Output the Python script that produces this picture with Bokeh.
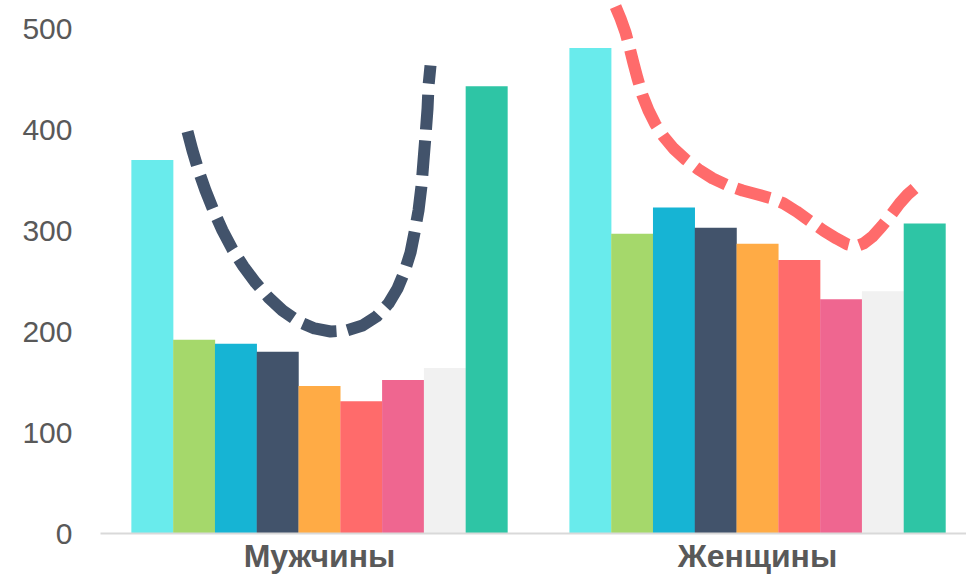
from bokeh.plotting import figure
from bokeh.models import Range1d, FixedTicker, ColumnDataSource
from bokeh.embed import file_html
from bokeh.resources import INLINE

groups = ["Мужчины", "Женщины"]
series_colors = ["#69EBEC", "#A5D86B", "#16B4D4", "#42536B", "#FFAB45",
                 "#FF6B6B", "#EF6690", "#F1F1F1", "#2EC5A5"]
men_values = [370, 192, 188, 180, 146, 131, 152, 164, 443]
women_values = [481, 297, 323, 303, 287, 271, 232, 240, 307]
y_ticks = [0, 100, 200, 300, 400, 500]

# decorative dashed curves (x in group units: 0 = Мужчины, 1 = Женщины)
men_curve_x = [-0.3014, -0.2900, -0.2763, -0.2603, -0.2420, -0.2215, -0.1986,
               -0.1735, -0.1461, -0.1164, -0.0845, -0.0479, -0.0114, 0.0251,
               0.0616, 0.0982, 0.1301, 0.1575, 0.1781, 0.1941, 0.2078, 0.2169,
               0.2260, 0.2329, 0.2374, 0.2420, 0.2466, 0.2489, 0.2534]
men_curve_y = [398.2, 379.4, 359.6, 339.8, 320.0, 300.1, 281.3, 264.5, 248.6,
               233.8, 220.9, 210.0, 203.1, 200.1, 201.1, 206.0, 214.9, 227.8,
               242.7, 259.5, 278.4, 298.2, 320.0, 344.7, 369.5, 394.3, 421.0,
               443.8, 463.6]
women_curve_x = [0.6758, 0.6872, 0.6986, 0.7078, 0.7169, 0.7260, 0.7374, 0.7511,
                 0.7671, 0.7854, 0.8082, 0.8356, 0.8653, 0.8973, 0.9315, 0.9658,
                 1.0000, 1.0320, 1.0594, 1.0890, 1.1210, 1.1507, 1.1804, 1.2055,
                 1.2237, 1.2420, 1.2626, 1.2831, 1.3037, 1.3242, 1.3425, 1.3584]
women_curve_y = [522.0, 510.2, 496.3, 481.4, 465.6, 450.7, 433.9, 419.0, 405.2,
                 393.3, 381.4, 370.5, 360.6, 351.8, 344.9, 339.8, 335.8, 332.0,
                 327.0, 319.0, 309.1, 300.1, 292.2, 286.3, 284.3, 287.3, 294.2,
                 304.1, 315.0, 326.9, 335.8, 341.8]

n = len(series_colors)
bw = 0.0954
xs, tops, cols = [], [], []
for g, vals in enumerate([men_values, women_values]):
    for i, v in enumerate(vals):
        xs.append(g + (i - (n - 1) / 2) * bw)
        tops.append(v)
        cols.append(series_colors[i])
src = ColumnDataSource(dict(x=xs, top=tops, color=cols))

p = figure(width=966, height=576, output_backend="svg", toolbar_location=None,
           x_range=Range1d(-0.5, 1.477), y_range=Range1d(0, 528),
           min_border_left=100, min_border_right=0, min_border_top=0,
           min_border_bottom=43)
p.outline_line_color = None
p.background_fill_color = "white"
p.border_fill_color = "white"
p.xgrid.visible = False
p.ygrid.visible = False

p.vbar(x="x", top="top", bottom=0, width=bw * 1.005, color="color",
       line_color=None, source=src)

p.line(men_curve_x, men_curve_y, line_color="#42536B", line_width=12,
       line_dash="35 11", line_cap="butt", line_join="round")
p.line(women_curve_x, women_curve_y, line_color="#FF6B6B", line_width=12,
       line_dash="35 11", line_cap="butt", line_join="round")

# axes
p.yaxis.ticker = FixedTicker(ticks=y_ticks)
p.yaxis.axis_line_color = None
p.yaxis.major_tick_line_color = None
p.yaxis.minor_tick_line_color = None
p.yaxis.major_tick_out = 0
p.yaxis.major_label_standoff = 28
p.yaxis.major_label_text_font = "Liberation Sans"
p.yaxis.major_label_text_font_size = "30px"
p.yaxis.major_label_text_color = "#595959"

p.xaxis.ticker = FixedTicker(ticks=list(range(len(groups))))
p.xaxis.major_label_overrides = {i: g for i, g in enumerate(groups)}
p.xaxis.axis_line_color = "#D9D9D9"
p.xaxis.axis_line_width = 2
p.xaxis.major_tick_line_color = None
p.xaxis.minor_tick_line_color = None
p.xaxis.major_tick_out = 0
p.xaxis.major_label_standoff = 4
p.xaxis.major_label_text_font = "Liberation Sans"
p.xaxis.major_label_text_font_size = "32px"
p.xaxis.major_label_text_font_style = "bold"
p.xaxis.major_label_text_color = "#595959"

open("out.html", "w").write(file_html(p, INLINE))
